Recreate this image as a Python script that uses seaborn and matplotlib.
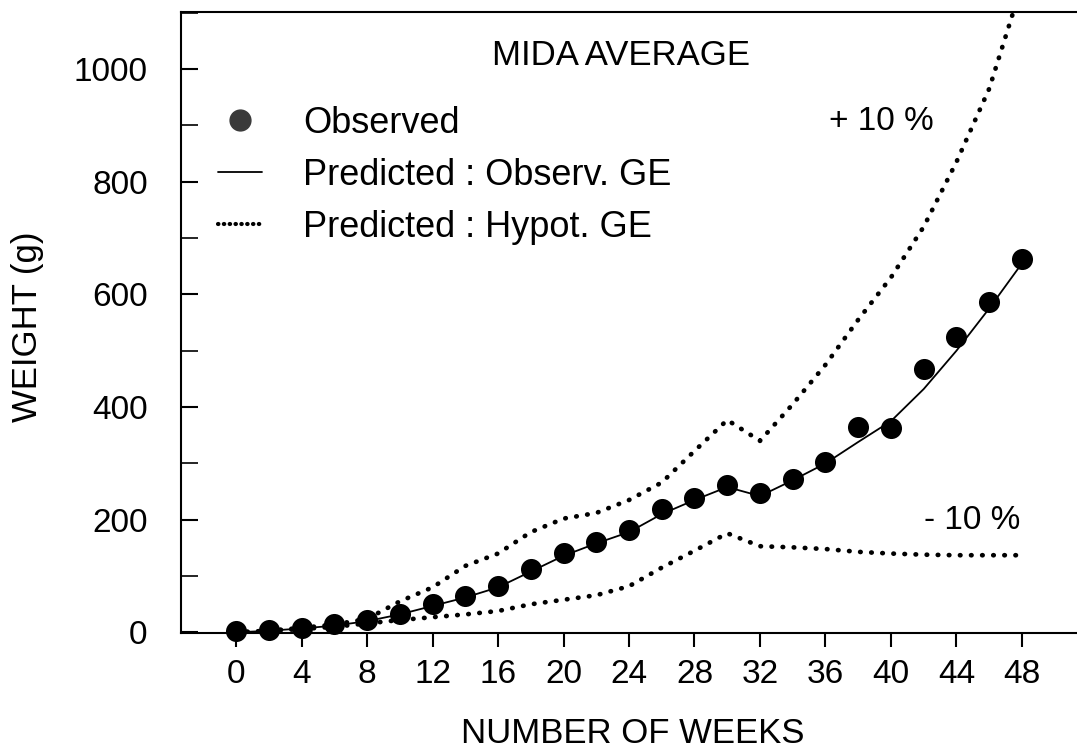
import numpy as np
import pandas as pd
import matplotlib
matplotlib.use("Agg")
import matplotlib.pyplot as plt
import seaborn as sns
from matplotlib.lines import Line2D
from matplotlib.ticker import MultipleLocator

weeks = [0, 2, 4, 6, 8, 10, 12, 14, 16, 18, 20, 22, 24, 26, 28, 30, 32, 34, 36, 38, 40, 42, 44, 46, 48]
observed = [2, 4, 8, 15, 22, 33, 50, 65, 82, 113, 141, 160, 182, 219, 239, 261, 247, 272, 302, 364, 362, 467, 524, 586, 663]
pred_observ_ge = [0, 3, 7, 12, 20, 32, 47, 62, 80, 108, 136, 158, 178, 210, 235, 258, 242, 270, 300, 338, 375, 432, 500, 575, 655]
pred_plus10 = [0, 3, 8, 14, 24, 55, 80, 118, 140, 178, 202, 212, 235, 266, 322, 377, 340, 405, 475, 555, 630, 720, 835, 965, 1150]
pred_minus10 = [0, 3, 6, 10, 16, 22, 27, 32, 38, 50, 58, 66, 82, 115, 145, 176, 153, 151, 148, 143, 140, 138, 137, 137, 137]

x_ticks = [0, 4, 8, 12, 16, 20, 24, 28, 32, 36, 40, 44, 48]
y_ticks = [0, 200, 400, 600, 800, 1000]

title_text = "MIDA AVERAGE"
x_label = "NUMBER OF WEEKS"
y_label = "WEIGHT (g)"
legend_labels = ["Observed", "Predicted : Observ. GE", "Predicted : Hypot. GE"]

df = pd.DataFrame({"week": weeks, "observed": observed, "pred": pred_observ_ge,
                   "plus": pred_plus10, "minus": pred_minus10})

sns.set_theme(style="white")
plt.rcParams["font.family"] = ["Liberation Sans", "DejaVu Sans"]
plt.rcParams["text.color"] = "black"
plt.rcParams["axes.labelcolor"] = "black"
plt.rcParams["xtick.color"] = "black"
plt.rcParams["ytick.color"] = "black"

fig = plt.figure(figsize=(10.77, 7.49), dpi=100)
ax = fig.add_axes([181 / 1077, 1 - 633 / 749, 1 - 181 / 1077, (633 - 12) / 749])

dot_style = dict(linestyle=(0, (0.1, 2.25)), dash_capstyle="round", linewidth=3.4, color="black")
sns.lineplot(data=df, x="week", y="plus", ax=ax, **dot_style)
sns.lineplot(data=df, x="week", y="minus", ax=ax, **dot_style)
sns.lineplot(data=df, x="week", y="pred", ax=ax, color="black", linewidth=1.3)
sns.scatterplot(data=df, x="week", y="observed", ax=ax, s=230, color="black",
                edgecolor="black", linewidth=0, clip_on=False, zorder=5)

ax.set_xlim(-3.36, 51.36)
ax.set_ylim(-1, 1101)
ax.set_xticks(x_ticks)
ax.set_yticks(y_ticks)
ax.yaxis.set_minor_locator(MultipleLocator(100))
ax.tick_params(axis="x", direction="out", length=10, width=1.5, labelsize=24, pad=9, bottom=True)
ax.tick_params(axis="y", which="both", direction="in", length=12, width=1.5, labelsize=24, pad=24, left=True)
ax.tick_params(axis="y", which="minor", length=12, width=1.2)

for side in ["left", "top", "bottom"]:
    ax.spines[side].set_visible(True)
    ax.spines[side].set_color("black")
    ax.spines[side].set_linewidth(1.5)
ax.spines["right"].set_visible(False)

ax.set_xlabel(x_label, fontsize=25)
ax.set_ylabel(y_label, fontsize=25)
ax.xaxis.set_label_coords(0.5045, -0.1626, transform=ax.transAxes)
ax.yaxis.set_label_coords(-0.1708, 0.4928, transform=ax.transAxes)
ax.xaxis.label.set_verticalalignment("center")
ax.yaxis.label.set_verticalalignment("center")

ax.text(23.54, 1023, title_text, fontsize=25, ha="center", va="center")
ax.text(39.39, 906, "+ 10 %", fontsize=24, ha="center", va="center")
ax.text(44.95, 198, "- 10 %", fontsize=24, ha="center", va="center")

handles = [
    Line2D([], [], marker="o", linestyle="none", markersize=15, color="#3a3a3a"),
    Line2D([], [], color="black", linewidth=1.3),
    Line2D([], [], linestyle=(0, (0.1, 1.3)), dash_capstyle="round", linewidth=3.0, color="black"),
]
leg = ax.legend(handles, legend_labels, loc="upper left", bbox_to_anchor=(218 / 1077, 1 - 106 / 749),
                bbox_transform=fig.transFigure, frameon=False, fontsize=26,
                handlelength=1.22, handletextpad=1.13, labelspacing=0.47, borderpad=0, borderaxespad=0)

fig.savefig("out.png", dpi=100)
